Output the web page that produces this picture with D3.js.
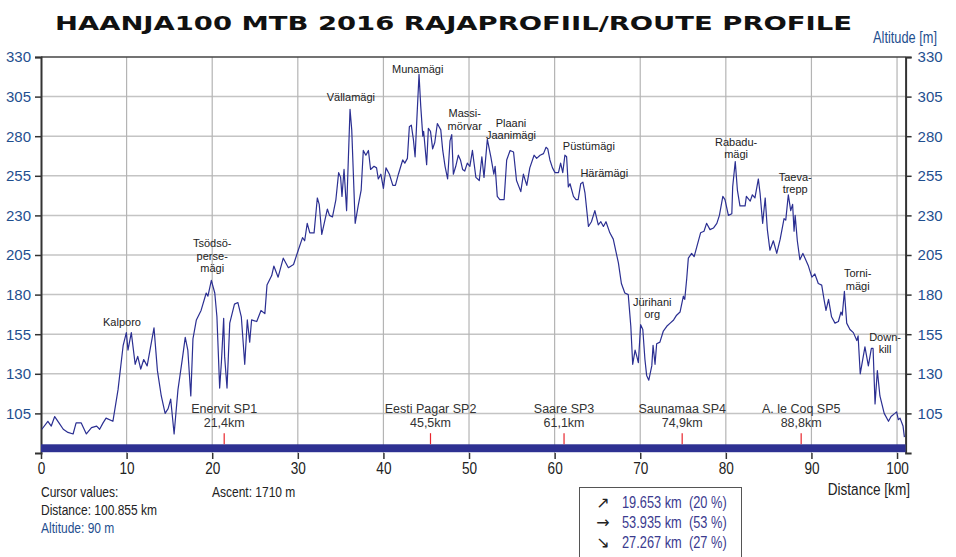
<!DOCTYPE html>
<html>
<head>
<meta charset="utf-8">
<script src="https://cdn.jsdelivr.net/npm/d3@7"></script>
<style>
  body { margin: 0; background: #fff; }
  svg { display: block; }
</style>
</head>
<body>
<svg id="chart" width="956" height="557"></svg>
<script>
// route profile (km, m)
const distance = [0.1, 0.8, 1.2, 1.6, 2.1, 2.6, 3.15, 3.75, 4.1, 4.7, 5.3, 5.9, 6.5, 6.85, 7.25, 7.6, 8.4,
  9.0, 9.6, 9.97, 10.16, 10.55, 11.0, 11.3, 11.65, 12.0, 12.4, 12.9, 13.2, 13.6, 14.05, 14.5, 14.85, 15.15,
  15.55, 16.0, 16.5, 16.85, 17.15, 17.5, 17.75, 18.15, 18.7, 19.3, 19.5, 19.9, 20.3, 20.55, 20.87, 21.07,
  21.34, 21.45, 21.73, 22.05, 22.6, 23.0, 23.4, 23.8, 24.1, 24.38, 24.6, 25.2, 25.7, 26.15, 26.4, 26.95,
  27.2, 27.7, 28.3, 28.9, 29.5, 30.05, 30.55, 30.8, 31.1, 31.4, 31.9, 32.28, 32.5, 32.8, 33.45, 33.7, 34.05,
  34.45, 34.77, 35.0, 35.16, 35.4, 35.7, 36.1, 36.3, 36.7, 37.05, 37.4, 37.65, 37.95, 38.25, 38.5, 38.9,
  39.2, 39.4, 39.7, 40.0, 40.3, 40.7, 41.1, 41.4, 41.75, 42.25, 42.5, 42.8, 43.03, 43.26, 43.5, 43.7, 43.9,
  44.16, 44.36, 44.6, 44.7, 45.05, 45.25, 45.5, 45.75, 46.0, 46.3, 46.7, 46.93, 47.2, 47.5, 47.78, 47.98,
  48.17, 48.45, 48.75, 49.0, 49.25, 49.5, 49.8, 50.1, 50.4, 50.8, 51.2, 51.5, 51.75, 52.14, 52.55, 52.9,
  53.05, 53.3, 53.6, 54.1, 54.4, 54.8, 55.2, 55.55, 56.05, 56.35, 56.75, 57.1, 57.6, 57.9, 58.3, 58.7, 59.0,
  59.2, 59.45, 59.75, 60.05, 60.45, 60.7, 60.95, 61.2, 61.4, 61.6, 61.8, 62.2, 62.5, 62.75, 63.05, 63.3,
  63.55, 63.95, 64.3, 64.7, 65.1, 65.4, 65.7, 66.0, 66.45, 66.85, 67.45, 67.8, 68.2, 68.6, 68.9, 69.12,
  69.4, 69.6, 69.78, 70.05, 70.3, 70.55, 70.75, 71.0, 71.35, 71.5, 71.73, 71.92, 72.3, 72.7, 73.1, 73.5,
  73.9, 74.25, 74.65, 75.04, 75.2, 75.43, 75.62, 76.0, 76.3, 76.6, 77.05, 77.45, 77.75, 78.15, 78.55, 78.95,
  79.25, 79.65, 79.9, 80.3, 80.7, 80.8, 81.1, 81.35, 81.65, 82.25, 82.4, 82.85, 83.1, 83.4, 83.8, 84.0, 84.3,
  84.6, 84.85, 85.15, 85.55, 85.95, 86.35, 86.8, 87.0, 87.3, 87.58, 87.8, 87.97, 88.1, 88.35, 88.65, 89.0,
  89.25, 89.65, 90.05, 90.4, 90.8, 91.2, 91.47, 91.7, 92.0, 92.35, 92.75, 93.15, 93.45, 93.6, 93.85, 94.12,
  94.5, 94.9, 95.3, 95.45, 95.7, 96.25, 96.65, 97.0, 97.2, 97.43, 97.7, 98.0, 98.5, 99.0, 99.3, 99.75,
  99.95, 100.15, 100.35, 100.7, 100.86];
const altitude = [95, 100, 97, 103, 99, 95, 93, 92, 99, 99, 92, 96, 97, 95, 99, 102, 100,
  120, 148, 156, 145, 156, 136, 141, 133, 139, 135, 150, 159, 132, 116, 105, 108, 114,
  92, 120, 139, 153, 145, 116, 152, 164, 170, 181, 179, 189, 181, 166, 121, 137,
  165, 141, 121, 162, 174, 175, 166, 136, 164, 150, 164, 163, 170, 168, 186, 192,
  198, 191, 203, 197, 199, 208, 216, 214, 225, 219, 219, 241, 237, 218, 234, 230, 229,
  240, 257, 254, 242, 259, 233, 297, 284, 225, 236, 246, 271, 268, 271, 259, 261,
  260, 253, 256, 247, 260, 256, 249, 249, 256, 265, 263, 266, 286, 287, 278, 267, 290,
  319, 299, 280, 283, 262, 285, 283, 272, 276, 288, 284, 271, 261, 253, 277, 281,
  256, 261, 268, 265, 259, 258, 263, 261, 271, 254, 252, 267, 254, 278, 267, 256,
  261, 242, 240, 240, 265, 271, 270, 252, 245, 256, 249, 260, 268, 266, 268, 269, 273,
  272, 265, 260, 257, 257, 263, 257, 268, 267, 248, 250, 242, 240, 240, 250, 251,
  244, 223, 226, 233, 224, 226, 223, 226, 219, 215, 200, 187, 181, 180, 160, 136,
  145, 141, 137, 161, 158, 139, 129, 126, 135, 148, 136, 149, 150, 157, 160, 162,
  164, 167, 169, 179, 177, 190, 203, 206, 204, 210, 219, 220, 225, 221, 222, 225,
  230, 242, 240, 230, 231, 248, 264, 246, 236, 236, 242, 239, 243, 241, 253, 244, 225,
  241, 221, 208, 214, 206, 215, 228, 227, 243, 233, 237, 220, 230, 214, 202, 206,
  203, 198, 191, 193, 187, 186, 177, 170, 177, 166, 162, 163, 169, 167, 182, 162,
  158, 156, 151, 154, 130, 147, 135, 146, 146, 111, 132, 116, 105, 100, 103, 105,
  106, 101, 102, 97, 90];

const yTicks = [105, 130, 155, 180, 205, 230, 255, 280, 305, 330];
const xTicks = [0, 10, 20, 30, 40, 50, 60, 70, 80, 90, 100];

// supply points
const spNames = ["Enervit SP1", "Eesti Pagar SP2", "Saare SP3", "Saunamaa SP4", "A. le Coq SP5"];
const spKm = [21.4, 45.5, 61.1, 74.9, 88.8];
const spLabels = ["21,4km", "45,5km", "61,1km", "74,9km", "88,8km"];

// named climbs: label lines, km under label centre, altitude at first baseline
const peakLines = [["Kalporo"], ["Tsödsö-", "perse-", "mägi"], ["Vällamägi"], ["Munamägi"], ["Massi-", "mörvar"],
  ["Plaani", "Jaanimägi"], ["Püstümägi"], ["Härämägi"], ["Jürihani", "org"], ["Rabadu-", "mägi"],
  ["Taeva-", "trepp"], ["Torni-", "mägi"], ["Down-", "kill"]];
const peakKm = [9.46, 20.0, 36.2, 44.0, 49.5, 54.9, 64.0, 65.8, 71.4, 81.2, 88.1, 95.4, 98.6];
const peakAlt = [160, 210, 302, 320, 292, 286, 271, 254, 173, 274, 252, 191, 151];

const slopeArrows = ["\u2197", "\u2192", "\u2198"];
const slopeKm = ["19.653 km", "53.935 km", "27.267 km"];
const slopePct = ["(20 %)", "(53 %)", "(27 %)"];

const svg = d3.select("#chart");
const blue = "#1f4f8f";
const sans = "'Liberation Sans', Arial, sans-serif";

// Arial Narrow look-alike: squeeze regular sans text sideways
function narrowText(parent, px, py, str, size, color, anchor)
{
  return parent.append("text")
    .attr("transform", `translate(${px},${py}) scale(0.8,1)`)
    .attr("text-anchor", anchor || "start")
    .style("font", `${size}px ${sans}`)
    .attr("fill", color)
    .text(str);
}

const x = d3.scaleLinear().domain([0, 101]).range([41, 905.6]);
const y = d3.scaleLinear().domain([80, 330]).range([453, 57]);

// title
svg.append("text")
  .attr("x", 55).attr("y", 30)
  .attr("textLength", 797).attr("lengthAdjust", "spacingAndGlyphs")
  .style("font", "bold 20px 'DejaVu Sans', sans-serif")
  .attr("fill", "#111")
  .text("HAANJA100 MTB 2016 RAJAPROFIIL/ROUTE PROFILE");

narrowText(svg, 937, 43, "Altitude [m]", 16, blue, "end");

// grid
svg.append("g").selectAll("line")
  .data(yTicks.slice(0, -1))
  .join("line")
  .attr("x1", x(0)).attr("x2", x(101))
  .attr("y1", d => y(d)).attr("y2", d => y(d))
  .attr("stroke", "#c4c4c4").attr("stroke-width", 1.5);

svg.append("g").selectAll("line")
  .data(xTicks.slice(1))
  .join("line")
  .attr("x1", d => x(d)).attr("x2", d => x(d))
  .attr("y1", y(330)).attr("y2", y(80))
  .attr("stroke", "#b4b4b4").attr("stroke-width", 1.2);

svg.append("line")
  .attr("x1", x(0)).attr("x2", x(101))
  .attr("y1", y(330)).attr("y2", y(330))
  .attr("stroke", "#444").attr("stroke-width", 1.5);

// axes
const left = svg.append("g")
  .attr("transform", `translate(${x(0)},0)`)
  .call(d3.axisLeft(y).tickValues(yTicks).tickSize(6).tickPadding(4));
const right = svg.append("g")
  .attr("transform", `translate(${x(101)},0)`)
  .call(d3.axisRight(y).tickValues(yTicks).tickSize(6).tickPadding(6));
[left, right].forEach(g =>
{
  g.select(".domain").attr("stroke", "#333").attr("stroke-width", 2);
  g.selectAll(".tick line").attr("stroke", "#333").attr("stroke-width", 1.5);
  g.selectAll("text").attr("fill", blue).style("font", `15px ${sans}`);
});

const bottom = svg.append("g")
  .attr("transform", `translate(0,${y(80)})`)
  .call(d3.axisBottom(x).tickValues(xTicks).tickSize(6).tickPadding(3));
bottom.select(".domain").remove();
bottom.selectAll(".tick line").attr("stroke", "#333").attr("stroke-width", 1.5);
bottom.selectAll("text")
  .attr("fill", "#222")
  .attr("transform", "scale(0.8,1)")
  .style("font", `17px ${sans}`);

narrowText(svg, 910, 495, "Distance [km]", 17, "#222", "end");

// profile line
const line = d3.line()
  .x((d, i) => x(distance[i]))
  .y(d => y(d));
svg.append("path")
  .datum(altitude)
  .attr("d", line)
  .attr("fill", "none")
  .attr("stroke", "#2b2f92")
  .attr("stroke-width", 1.2)
  .attr("stroke-linejoin", "round");

// bar along the bottom
svg.append("rect")
  .attr("x", x(0)).attr("width", x(101) - x(0))
  .attr("y", y(85.5)).attr("height", y(80.5) - y(85.5))
  .attr("fill", "#2e3192");

// supply points
const sp = svg.append("g").selectAll("g")
  .data(spKm)
  .join("g")
  .attr("transform", d => `translate(${x(d)},0)`);
sp.append("line")
  .attr("y1", y(92.5)).attr("y2", y(85.5))
  .attr("stroke", "#e8252d").attr("stroke-width", 1.2);
sp.append("text")
  .attr("y", 413).attr("text-anchor", "middle")
  .style("font", `12.5px ${sans}`).attr("fill", "#333")
  .text((d, i) => spNames[i]);
sp.append("text")
  .attr("y", 427).attr("text-anchor", "middle")
  .style("font", `12.5px ${sans}`).attr("fill", "#333")
  .text((d, i) => spLabels[i]);

// climb names
const pk = svg.append("g").selectAll("text")
  .data(peakKm)
  .join("text")
  .attr("x", d => x(d))
  .attr("y", (d, i) => y(peakAlt[i]))
  .attr("text-anchor", "middle")
  .style("font", `11px ${sans}`).attr("fill", "#222");
pk.selectAll("tspan")
  .data((d, i) => peakLines[i])
  .join("tspan")
  .attr("x", function () { return this.parentNode.getAttribute("x"); })
  .attr("dy", (d, j) => j === 0 ? 0 : 12.5)
  .text(d => d);

// cursor readout
const info = svg.append("g");
narrowText(info, 41, 497, "Cursor values:", 15, "#222");
narrowText(info, 41, 515, "Distance: 100.855 km", 15, "#222");
narrowText(info, 41, 533, "Altitude: 90 m", 15, blue);
narrowText(info, 212, 497, "Ascent: 1710 m", 15, "#222");

// slope summary box
svg.append("rect")
  .attr("x", 579.5).attr("y", 487.5).attr("width", 162).attr("height", 80)
  .attr("fill", "none").attr("stroke", "#555").attr("stroke-width", 1);
const rows = svg.append("g").selectAll("g")
  .data(slopeKm)
  .join("g")
  .attr("transform", (d, i) => `translate(0,${508 + i * 20})`);
rows.append("text")
  .attr("x", 603).attr("text-anchor", "middle")
  .style("font", "16px 'DejaVu Sans', sans-serif").attr("fill", "#222")
  .text((d, i) => slopeArrows[i]);
rows.each(function (d, i)
{
  const r = d3.select(this);
  narrowText(r, 622, 0, d, 16, "#3b3b8f");
  narrowText(r, 689, 0, slopePct[i], 16, "#3b3b8f");
});
</script>
</body>
</html>
